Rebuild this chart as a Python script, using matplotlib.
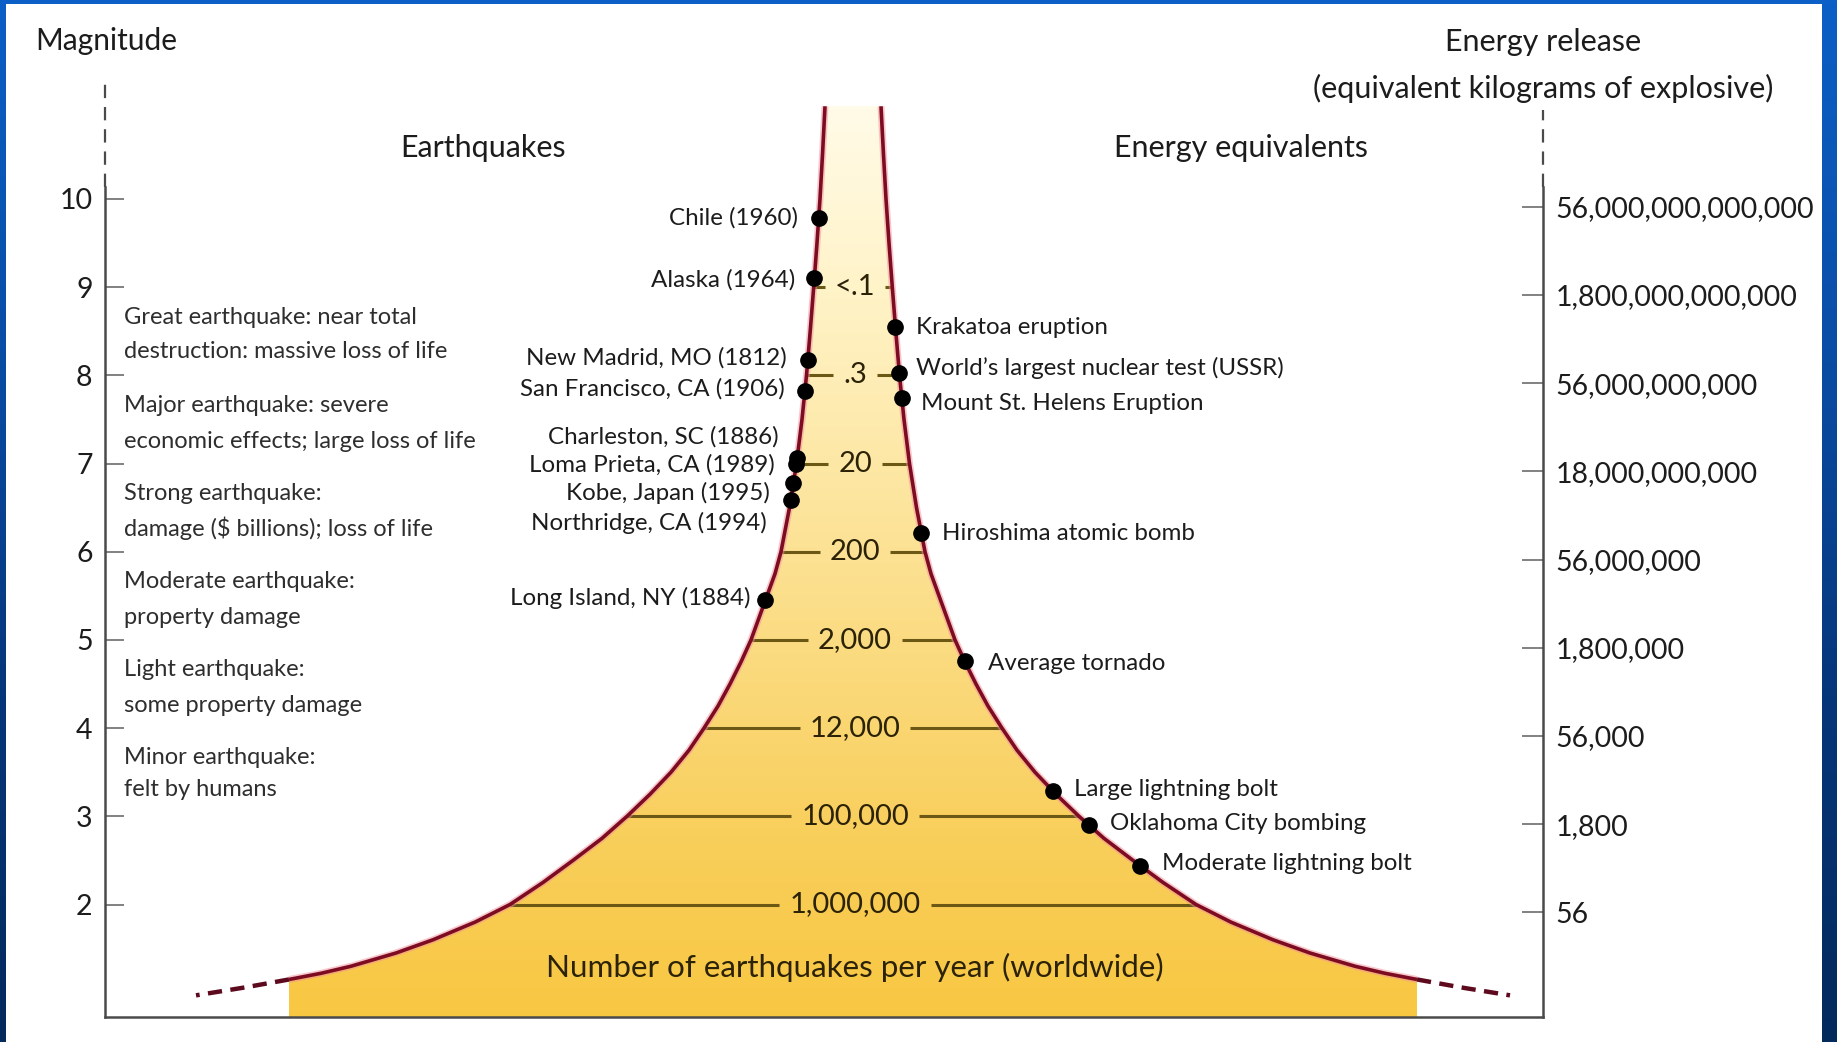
import numpy as np
import matplotlib
matplotlib.use("Agg")
import matplotlib.pyplot as plt
import matplotlib.transforms as mtransforms
from matplotlib.patches import Polygon, Rectangle
from matplotlib.colors import LinearSegmentedColormap

plt.rcParams['font.family'] = ['Lato', 'DejaVu Sans']

W, H, DPI = 1837, 1042, 100

# ---------------- data ----------------
magnitudes = [10, 9, 8, 7, 6, 5, 4, 3, 2]
magnitude_labels = ["10", "9", "8", "7", "6", "5", "4", "3", "2"]

energy_labels = ["56,000,000,000,000", "1,800,000,000,000", "56,000,000,000",
                 "18,000,000,000", "56,000,000", "1,800,000", "56,000", "1,800", "56"]

count_magnitudes = [9, 8, 7, 6, 5, 4, 3, 2]
quakes_per_year = ["<.1", ".3", "20", "200", "2,000", "12,000", "100,000", "1,000,000"]

# funnel outline: half-width of the funnel at each magnitude
outline_mag = [11.05, 10.5, 10.0, 9.5, 9.0, 8.5, 8.0, 7.5, 7.0, 6.5, 6.0, 5.75,
               5.5, 5.25, 5.0, 4.75, 4.5, 4.25, 4.0, 3.75, 3.5, 3.25, 3.0, 2.75,
               2.5, 2.25, 2.0, 1.8, 1.6, 1.45, 1.3, 1.22, 1.15]
outline_halfwidth = [28, 30.5, 33, 36, 39.3, 42.8, 46.5, 51, 56.5, 63.5, 72, 78,
                     86, 94, 102, 112, 123, 135, 149, 164, 182, 203, 226, 251,
                     280, 310, 343, 378, 420, 457, 502, 532, 564]
tail_mag = [1.15, 1.06, 0.97]
tail_halfwidth = [564, 608, 657]

quake_names = ["Chile (1960)", "Alaska (1964)", "New Madrid, MO (1812)",
               "San Francisco, CA (1906)", "Charleston, SC (1886)",
               "Loma Prieta, CA (1989)", "Kobe, Japan (1995)",
               "Northridge, CA (1994)", "Long Island, NY (1884)"]
quake_mags = [9.78, 9.10, 8.17, 7.82, 7.06, 6.99, 6.78, 6.59, 5.45]

energy_events = ["Krakatoa eruption", "World\u2019s largest nuclear test (USSR)",
                 "Mount St. Helens Eruption", "Hiroshima atomic bomb",
                 "Average tornado", "Large lightning bolt",
                 "Oklahoma City bombing", "Moderate lightning bolt"]
energy_mags = [8.55, 8.03, 7.74, 6.21, 4.76, 3.29, 2.90, 2.44]

class_text = [
    ("Great earthquake: near total", "destruction: massive loss of life"),
    ("Major earthquake: severe", "economic effects; large loss of life"),
    ("Strong earthquake:", "damage ($ billions); loss of life"),
    ("Moderate earthquake:", "property damage"),
    ("Light earthquake:", "some property damage"),
    ("Minor earthquake:", "felt by humans"),
]

# ---------------- layout ----------------
CX = 853                      # funnel centre line
AX_LEFT, AX_RIGHT = 105, 1543 # vertical axis positions
BASE = 0.725                  # magnitude level of the bottom axis
SOLID_TOP = 10.13             # where the axes turn dashed
M_TOP = 2 + 904.5 / 88.2
M_BOT = 2 - (H - 904.5) / 88.2

quake_label_xy = [(798, 218), (795, 280), (787, 358), (785, 389), (779, 437),
                  (775, 465), (770, 493), (767, 523), (751, 598)]
energy_label_xy = [(916, 328), (916, 368), (921, 403), (942, 533), (988, 663),
                   (1074, 789), (1110, 823), (1162, 863)]
class_y = [(317, 352), (406, 442), (493, 528), (582, 617), (670, 706), (758, 790)]

INK = '#1c1c1c'
AXIS_GREY = '#4a4a4a'
CURVE = '#7d0c22'
LINE_OLIVE = '#6b5815'
EVENT_SIZE = 17.4

fig = plt.figure(figsize=(W / DPI, H / DPI), dpi=DPI)
pix = mtransforms.Affine2D().scale(1.0 / W, -1.0 / H).translate(0, 1) + fig.transFigure

# blue slide frame with white panel
bg = fig.add_axes([0, 0, 1, 1], zorder=0)
bg.set_axis_off()
frame = LinearSegmentedColormap.from_list('frame', ['#0c5fc6', '#0a4da6', '#06367a', '#042a5c'])
bg.imshow(np.linspace(0, 1, 256).reshape(-1, 1), cmap=frame,
          extent=(0, W, H, 0), aspect='auto')
bg.add_patch(Rectangle((6, 4), 1822 - 6, H - 4, facecolor='white', edgecolor='none'))
bg.set_xlim(0, W)
bg.set_ylim(H, 0)

ax = fig.add_axes([0, 0, 1, 1], zorder=1)
ax.patch.set_visible(False)

mags = np.array(outline_mag)
hw = np.array(outline_halfwidth)
left_x, right_x = CX - hw, CX + hw


def halfwidth_at(m):
    return np.interp(m, mags[::-1], hw[::-1])


# yellow funnel body
poly = np.vstack([
    np.column_stack([left_x, mags]),
    [[left_x[-1], BASE], [right_x[-1], BASE]],
    np.column_stack([right_x[::-1], mags[::-1]]),
])
body = Polygon(poly, closed=True, facecolor='none', edgecolor='none')
ax.add_patch(body)
fill = LinearSegmentedColormap.from_list(
    'fill', ['#f8c742', '#f9cf5c', '#fbdb80', '#fde7a4', '#fff3c8', '#fffbe8'])
im = ax.imshow(np.linspace(0, 1, 256).reshape(-1, 1), cmap=fill, origin='lower',
               extent=(CX - 700, CX + 700, BASE, outline_mag[0]), aspect='auto', zorder=1)
im.set_clip_path(body)

# funnel outline
for xs in (left_x, right_x):
    ax.plot(xs, mags, color='#f2909c', lw=5.0, alpha=0.5, solid_capstyle='butt',
            solid_joinstyle='round', zorder=3)
    ax.plot(xs, mags, color=CURVE, lw=2.6, solid_capstyle='butt',
            solid_joinstyle='round', zorder=4)
for sign in (-1, 1):
    ax.plot(CX + sign * np.array(tail_halfwidth), tail_mag, color='#5e0a1e', lw=3.2,
            dashes=(3.2, 1.9), zorder=4)

# yearly counts across the funnel
count_texts = []
for m, lab in zip(count_magnitudes, quakes_per_year):
    t = ax.text(CX + 2, m, lab, ha='center', va='center', fontsize=21,
                color='#2b2208', zorder=6)
    count_texts.append((t, m))

# events on the curve
for name, m, (lx, ly) in zip(quake_names, quake_mags, quake_label_xy):
    ax.plot(CX - halfwidth_at(m), m, 'o', color='black', ms=11, zorder=5)
    ax.text(lx, ly, name, transform=pix, ha='right', va='center',
            fontsize=EVENT_SIZE, color=INK)
for name, m, (lx, ly) in zip(energy_events, energy_mags, energy_label_xy):
    ax.plot(CX + halfwidth_at(m), m, 'o', color='black', ms=11, zorder=5)
    ax.text(lx, ly, name, transform=pix, ha='left', va='center',
            fontsize=EVENT_SIZE, color=INK)

# descriptions of magnitude classes
for (l1, l2), (y1, y2) in zip(class_text, class_y):
    ax.text(124, y1, l1, transform=pix, ha='left', va='center', fontsize=17, color='#2e2e2e')
    ax.text(124, y2, l2, transform=pix, ha='left', va='center', fontsize=17, color='#2e2e2e')

# headings
ax.text(35, 41, "Magnitude", transform=pix, ha='left', va='center', fontsize=21.5, color=INK)
ax.text(483, 148, "Earthquakes", transform=pix, ha='center', va='center', fontsize=22, color=INK)
ax.text(1241, 148, "Energy equivalents", transform=pix, ha='center', va='center', fontsize=22, color=INK)
ax.text(1543, 42, "Energy release", transform=pix, ha='center', va='center', fontsize=22, color=INK)
ax.text(1543, 88, "(equivalent kilograms of explosive)", transform=pix, ha='center',
        va='center', fontsize=22, color=INK)
ax.text(CX + 2, 967, "Number of earthquakes per year (worldwide)", transform=pix,
        ha='center', va='center', fontsize=22.6, color='#2b2208', zorder=6)

# left magnitude axis
ax.set_xlim(0, W)
ax.set_ylim(M_BOT, M_TOP)
for s in ('top', 'right'):
    ax.spines[s].set_visible(False)
ax.spines['left'].set_position(('data', AX_LEFT))
ax.spines['left'].set_bounds(BASE, SOLID_TOP)
ax.spines['bottom'].set_position(('data', BASE))
ax.spines['bottom'].set_bounds(AX_LEFT, AX_RIGHT)
for s in ('left', 'bottom'):
    ax.spines[s].set_color(AXIS_GREY)
    ax.spines[s].set_linewidth(1.8)
ax.set_xticks([])
ax.set_yticks(magnitudes)
ax.set_yticklabels(magnitude_labels)
ax.tick_params(axis='y', direction='in', length=13.5, width=1.3, color='#777777',
               pad=9, labelsize=20.5, labelcolor=INK)
ax.plot([AX_LEFT, AX_LEFT], [SOLID_TOP, 11.38], color=AXIS_GREY, lw=1.6, dashes=(6, 4))

# right energy axis
ax2 = ax.twinx()
ax2.set_ylim(M_BOT, M_TOP)
for s in ('top', 'left', 'bottom'):
    ax2.spines[s].set_visible(False)
ax2.spines['right'].set_position(('data', AX_RIGHT))
ax2.spines['right'].set_bounds(BASE, SOLID_TOP)
ax2.spines['right'].set_color(AXIS_GREY)
ax2.spines['right'].set_linewidth(1.8)
ax2.set_yticks([m - 0.09 for m in magnitudes])
ax2.set_yticklabels(energy_labels)
ax2.tick_params(axis='y', direction='in', length=15, width=1.3, color='#777777',
                pad=9, labelsize=20.5, labelcolor=INK)
ax.plot([AX_RIGHT, AX_RIGHT], [SOLID_TOP, 11.01], color=AXIS_GREY, lw=1.6, dashes=(6, 4))

# count lines run from the curve to the label on each side
fig.canvas.draw()
renderer = fig.canvas.get_renderer()
inv = ax.transData.inverted()
for t, m in count_texts:
    bb = t.get_window_extent(renderer)
    x0 = inv.transform((bb.x0, 0))[0] - 10
    x1 = inv.transform((bb.x1, 0))[0] + 10
    h = halfwidth_at(m)
    ax.plot([CX - h, x0], [m, m], color=LINE_OLIVE, lw=2.2, zorder=2, solid_capstyle='butt')
    ax.plot([x1, CX + h], [m, m], color=LINE_OLIVE, lw=2.2, zorder=2, solid_capstyle='butt')

fig.savefig('out.png', dpi=DPI)
